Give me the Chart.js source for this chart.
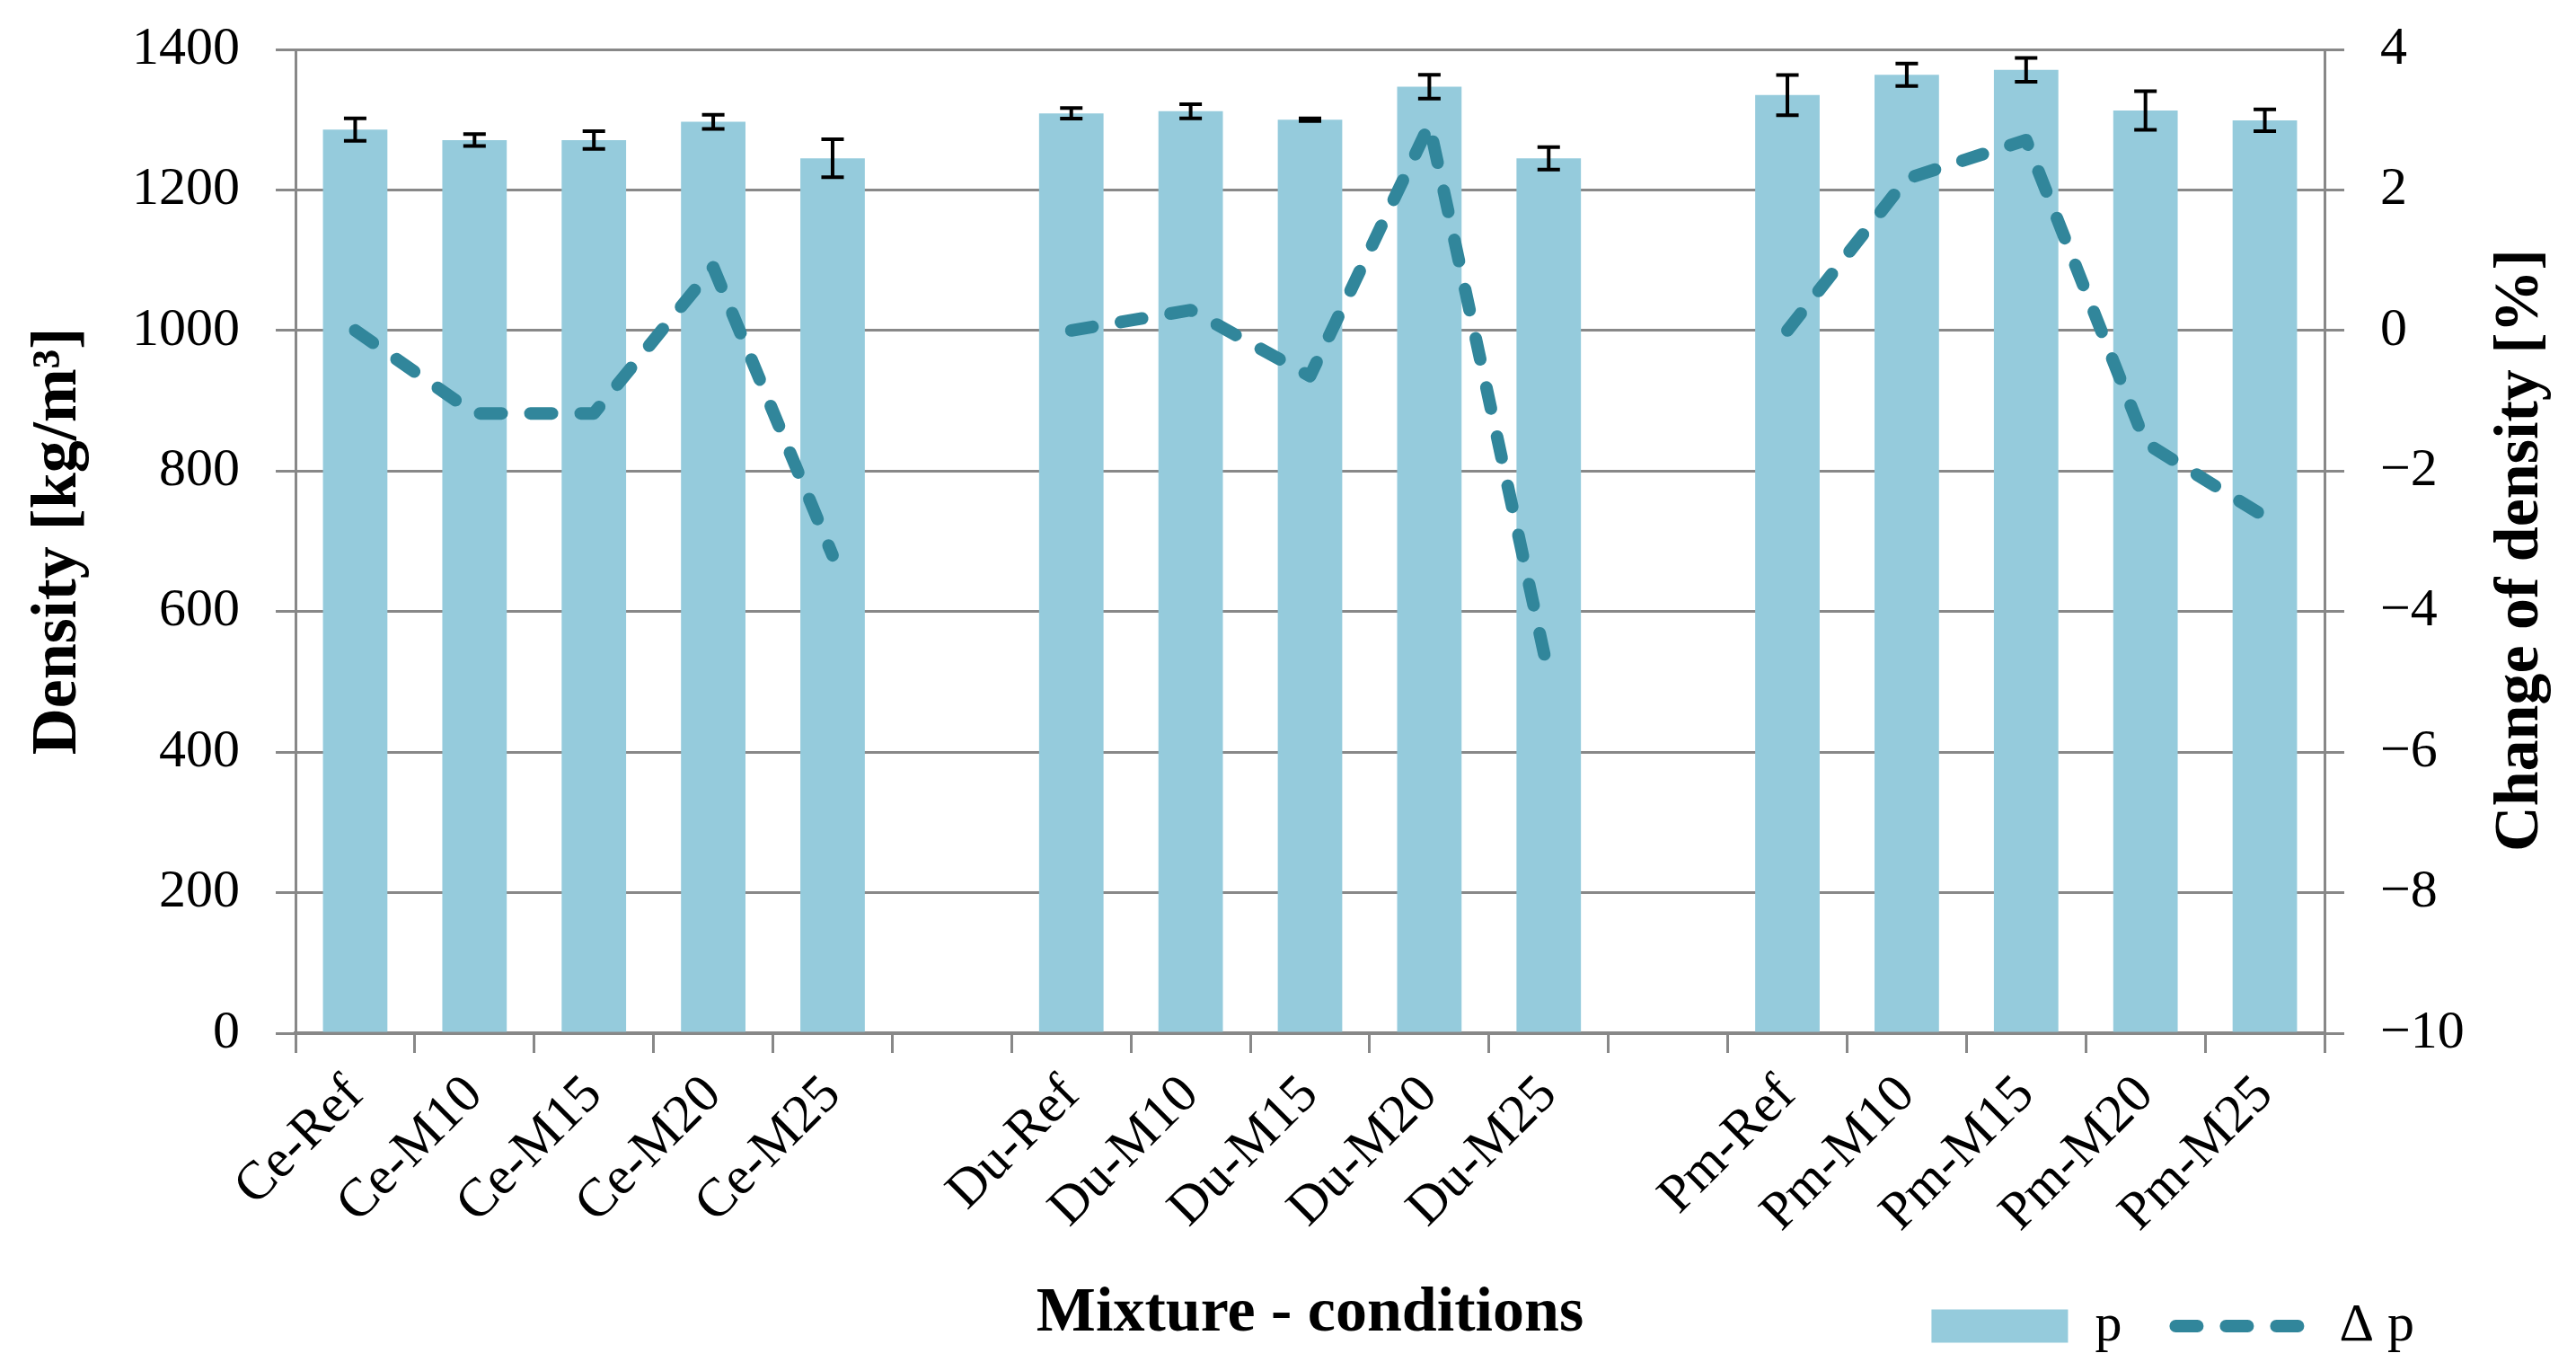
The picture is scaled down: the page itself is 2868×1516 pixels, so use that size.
<!DOCTYPE html>
<html>
<head>
<meta charset="utf-8">
<script src="https://cdn.jsdelivr.net/npm/chart.js@4.4.1/dist/chart.umd.min.js"></script>
<style>
html,body{margin:0;padding:0;background:#ffffff;}
#wrap{width:2868px;height:1516px;position:relative;}
</style>
</head>
<body>
<div id="wrap"><canvas id="c"></canvas></div>
<script>
// ---- data ----
const categories = ['Ce-Ref','Ce-M10','Ce-M15','Ce-M20','Ce-M25','',
                    'Du-Ref','Du-M10','Du-M15','Du-M20','Du-M25','',
                    'Pm-Ref','Pm-M10','Pm-M15','Pm-M20','Pm-M25'];
const density = [1286,1271,1271,1297,1245,null,
                 1309,1312,1300,1347,1245,null,
                 1335,1364,1371,1313,1299];
const densityErr = [16,8.5,12.5,10,27,null,
                    7.5,10,2,17,16,null,
                    28.5,16,17,27.5,15.5];
const densityChange = [0,-1.18,-1.18,0.9,-3.2,null,
                       0,0.29,-0.65,2.93,-4.9,null,
                       0,2.16,2.71,-1.6,-2.65];
const seriesNames = ['p','\u0394 p'];
const leftTitle = 'Density [kg/m\u00B3]';
const rightTitle = 'Change of density [%]';
const xTitle = 'Mixture - conditions';

const FONT = '"Liberation Serif", "Times New Roman", serif';
const GRID = '#888888';
const BAR = '#95CBDC';
const LINE = '#31869B';

const errorBars = {
  id: 'errorBars',
  afterDatasetsDraw(chart) {
    const meta = chart.getDatasetMeta(0);
    const ys = chart.scales.y;
    const ctx = chart.ctx;
    ctx.save();
    ctx.strokeStyle = '#000000';
    ctx.lineWidth = 4;
    meta.data.forEach((bar, i) => {
      const v = density[i], e = densityErr[i];
      if (v == null || e == null) return;
      const x = bar.x;
      const yT = ys.getPixelForValue(v + e);
      const yB = ys.getPixelForValue(v - e);
      const hw = 12.5;
      ctx.beginPath();
      ctx.moveTo(x, yT); ctx.lineTo(x, yB);
      ctx.moveTo(x - hw, yT); ctx.lineTo(x + hw, yT);
      ctx.moveTo(x - hw, yB); ctx.lineTo(x + hw, yB);
      ctx.stroke();
    });
    ctx.restore();
  }
};

const rightTitlePlugin = {
  id: 'rightTitle',
  afterDraw(chart) {
    const ctx = chart.ctx;
    const a = chart.chartArea;
    const s = chart.scales.y1;
    ctx.save();
    ctx.font = 'bold 70px ' + FONT;
    ctx.fillStyle = '#000000';
    ctx.textAlign = 'center';
    ctx.textBaseline = 'middle';
    ctx.translate(s.right + 59, (a.top + a.bottom) / 2 + 10);
    ctx.rotate(-Math.PI / 2);
    ctx.fillText(rightTitle, 0, 0);
    ctx.restore();
  }
};

new Chart(document.getElementById('c'), {
  type: 'bar',
  data: {
    labels: categories,
    datasets: [
      {
        type: 'bar',
        label: seriesNames[0],
        data: density,
        yAxisID: 'y',
        backgroundColor: BAR,
        borderWidth: 0,
        barPercentage: 0.54,
        categoryPercentage: 1.0,
        pointStyle: 'rect',
        order: 1
      },
      {
        type: 'line',
        label: seriesNames[1],
        data: densityChange,
        yAxisID: 'y1',
        borderColor: LINE,
        backgroundColor: LINE,
        borderWidth: 14,
        borderDash: [24, 32],
        borderCapStyle: 'round',
        borderJoinStyle: 'round',
        pointRadius: 0,
        pointStyle: 'line',
        tension: 0,
        spanGaps: false,
        order: 0
      }
    ]
  },
  options: {
    responsive: true,
    maintainAspectRatio: false,
    devicePixelRatio: 1,
    animation: false,
    layout: { padding: { top: 55, right: 120, left: 0, bottom: 0 } },
    plugins: {
      tooltip: { enabled: false },
      legend: {
        position: 'bottom',
        align: 'end',
        labels: {
          usePointStyle: true,
          pointStyleWidth: 152,
          boxHeight: 37,
          padding: 60,
          color: '#000000',
          font: { family: FONT, size: 60 },
          sort: (a, b) => a.datasetIndex - b.datasetIndex,
          generateLabels(chart) {
            const items = Chart.defaults.plugins.legend.labels.generateLabels(chart);
            items.forEach(it => {
              const ds = chart.data.datasets[it.datasetIndex];
              if (ds.type === 'line') {
                it.lineDash = ds.borderDash;
                it.lineWidth = ds.borderWidth;
                it.lineCap = 'round';
                it.strokeStyle = ds.borderColor;
                it.fillStyle = ds.borderColor;
              } else {
                it.lineWidth = 0;
                it.fillStyle = ds.backgroundColor;
              }
            });
            return items;
          }
        }
      }
    },
    scales: {
      x: {
        offset: true,
        grid: { display: true, offset: true, drawOnChartArea: false, drawTicks: true, tickLength: 22, color: GRID, lineWidth: 3 },
        border: { display: true, color: GRID, width: 4 },
        ticks: {
          autoSkip: false, maxRotation: 45, minRotation: 45, padding: 12,
          color: '#000000', font: { family: FONT, size: 60 }
        },
        title: {
          display: true, text: xTitle, color: '#000000',
          font: { family: FONT, size: 70, weight: 'bold', lineHeight: 1.2 },
          padding: { top: 0, bottom: -119 }
        },
        afterFit(scale) { scale.height = 236; }
      },
      y: {
        position: 'left',
        min: 0, max: 1400,
        ticks: {
          stepSize: 200, padding: 40, color: '#000000', font: { family: FONT, size: 60 },
          callback: (v) => String(v)
        },
        grid: { color: GRID, lineWidth: 3, tickLength: 22, drawTicks: true },
        border: { display: true, color: GRID, width: 3 },
        title: {
          display: true, text: leftTitle, color: '#000000',
          font: { family: FONT, size: 72, weight: 'bold', lineHeight: 1.2 },
          padding: { top: 22, bottom: 0 }
        },
        afterFit(scale) { scale.width = 329; scale.paddingTop = 0; scale.paddingBottom = 0; }
      },
      y1: {
        position: 'right',
        min: -10, max: 4,
        ticks: {
          stepSize: 2, padding: 40, color: '#000000', font: { family: FONT, size: 60 },
          callback: (v) => String(v).replace('-', '\u2212')
        },
        grid: { drawOnChartArea: false, drawTicks: true, tickLength: 22, color: GRID, lineWidth: 3 },
        border: { display: true, color: GRID, width: 3 },
        afterFit(scale) { scale.width = 160; scale.paddingTop = 0; scale.paddingBottom = 0; }
      }
    }
  },
  plugins: [errorBars, rightTitlePlugin]
});
</script>
</body>
</html>
